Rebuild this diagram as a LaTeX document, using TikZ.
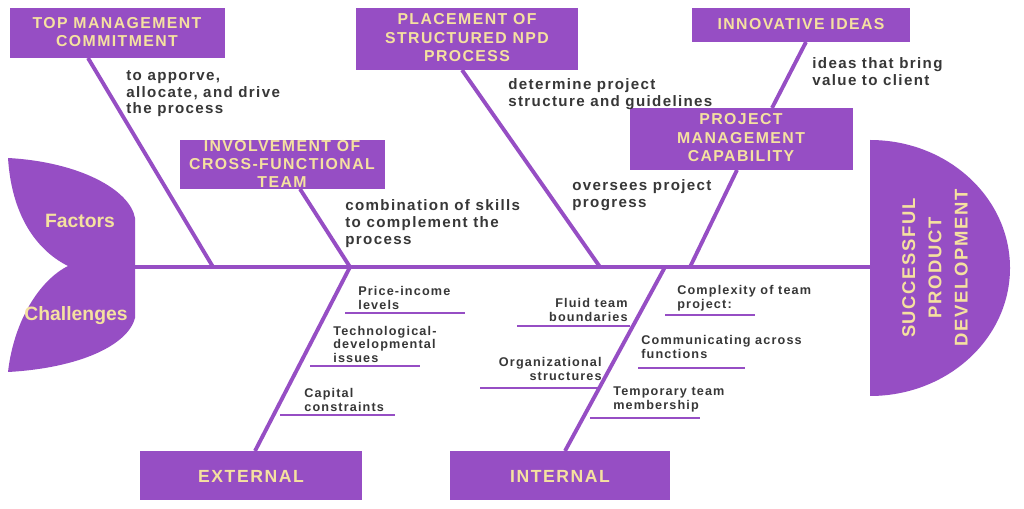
\documentclass[tikz,border=0pt]{standalone}
\usepackage{fontspec}
\setmainfont{Liberation Sans}
\newfontfamily\spaced[LetterSpace=9]{Liberation Sans}
\usetikzlibrary{calc}
\usetikzlibrary{shapes}
\definecolor{fishpurple}{RGB}{150,78,196}
\definecolor{cream}{RGB}{245,225,160}
\definecolor{inkgray}{RGB}{55,55,55}
\newcommand{\bone}[2]{\draw[fishpurple,line width=2.2pt] (#1) -- (#2);}
\newcommand{\twig}[3]{\draw[fishpurple,line width=0.9pt] (#1,#3) -- (#2,#3);}
\tikzset{
  causebox/.style={draw=none,text=cream,align=center,
    font=\spaced\bfseries\fontsize{9}{10.5}\selectfont,inner sep=0pt},
  note/.style={text=inkgray,align=left,anchor=north west,inner sep=0pt,
    font=\spaced\bfseries\fontsize{8.6}{9.6}\selectfont},
  small/.style={text=inkgray,inner sep=0pt,
    font=\spaced\bfseries\fontsize{7.2}{7.8}\selectfont},
}
\begin{document}
\begin{tikzpicture}[x=0.02cm,y=-0.02cm]
            \useasboundingbox (0,0) rectangle (1024,509);
            \fill[white] (0,0) rectangle (1024,509);
            % tail
            \fill[fishpurple] (8,158) .. controls (80,162) and (130,190) .. (135,218)
              -- (135,318) .. controls (128,345) and (80,368) .. (8,372)
              .. controls (14,320) and (40,280) .. (68,266)
              .. controls (40,252) and (12,220) .. (8,158) -- cycle;
            \node[text=cream,font=\bfseries\fontsize{11}{11}\selectfont] (factors) at (80,221) {Factors};
            \node[text=cream,font=\bfseries\fontsize{11}{11}\selectfont] (challenges) at (76,316) {Challenges};
            % head
            \fill[fishpurple] (870,140) arc[start angle=-90,end angle=90,x radius=140,y radius=128] -- cycle;
            \node[rotate=90,causebox,font=\spaced\bfseries\fontsize{10.5}{15}\selectfont] (head) at (935,268) {SUCCESSFUL\\PRODUCT\\DEVELOPMENT};
            % spine
            \coordinate (tail) at (135,267);
            \coordinate (nose) at (870,267);
            \bone{tail}{nose}
            % boxes
            \fill[fishpurple] (10,8) rectangle (225,58);
            \node[causebox] (topmgmt) at (117,32) {TOP MANAGEMENT\\COMMITMENT};
            \fill[fishpurple] (356,8) rectangle (578,70);
            \node[causebox] (placement) at (467,38) {PLACEMENT OF\\STRUCTURED NPD\\PROCESS};
            \fill[fishpurple] (692,8) rectangle (910,42);
            \node[causebox] (ideas) at (801,24) {INNOVATIVE IDEAS};
            \fill[fishpurple] (180,140) rectangle (385,189);
            \node[causebox] (crossteam) at (282,164) {INVOLVEMENT OF\\CROSS-FUNCTIONAL\\TEAM};
            \fill[fishpurple] (630,108) rectangle (853,170);
            \node[causebox] (projmgmt) at (741,138) {PROJECT\\MANAGEMENT\\CAPABILITY};
            \fill[fishpurple] (140,451) rectangle (362,500);
            \node[causebox,font=\spaced\bfseries\fontsize{10}{10}\selectfont] (external) at (251,476) {EXTERNAL};
            \fill[fishpurple] (450,451) rectangle (670,500);
            \node[causebox,font=\spaced\bfseries\fontsize{10}{10}\selectfont] (internal) at (560,476) {INTERNAL};
            % bones
            \coordinate (b1) at (213,267);
            \coordinate (b2) at (350,267);
            \coordinate (b3) at (600,267);
            \coordinate (b4) at (690,267);
            \coordinate (b5) at (665,267);
            \coordinate (t1) at (88,58);
            \coordinate (t2) at (300,189);
            \coordinate (t3) at (462,70);
            \coordinate (t4) at (806,42);
            \coordinate (t5) at (772,108);
            \coordinate (t6) at (737,170);
            \coordinate (e1) at (255,451);
            \coordinate (i1) at (565,451);
            \bone{t1}{b1}
            \bone{t2}{b2}
            \bone{t3}{b3}
            \bone{t4}{t5}
            \bone{t6}{b4}
            \bone{b2}{e1}
            \bone{b5}{i1}
            % notes
            \node[note] (n1) at (126,70) {to apporve,\\allocate, and drive\\the process};
            \node[note] (n2) at (508,78) {determine project\\structure and guidelines};
            \node[note] (n3) at (812,57) {ideas that bring\\value to client};
            \node[note] (n4) at (345,199) {combination of skills\\to complement the\\process};
            \node[note] (n5) at (572,179) {oversees project\\progress};
            % external twigs
            \twig{345}{465}{313}
            \twig{310}{420}{366}
            \twig{280}{395}{415}
            \node[small,anchor=south west,align=left] (ext1) at (358,310) {Price-income\\levels};
            \node[small,anchor=south west,align=left] (ext2) at (333,363) {Technological-\\developmental\\issues};
            \node[small,anchor=south west,align=left] (ext3) at (304,412) {Capital\\constraints};
            % internal twigs
            \twig{665}{755}{315}
            \twig{517}{630}{326}
            \twig{638}{745}{368}
            \twig{480}{600}{388}
            \twig{590}{700}{418}
            \node[small,anchor=south west,align=left] (int1) at (677,311) {Complexity of team\\project:};
            \node[small,anchor=south east,align=right] (int2) at (628,322) {Fluid team\\boundaries};
            \node[small,anchor=south west,align=left] (int3) at (641,359) {Communicating across\\functions};
            \node[small,anchor=south east,align=right] (int4) at (602,381) {Organizational\\structures};
            \node[small,anchor=south west,align=left] (int5) at (613,412) {Temporary team\\membership};
\end{tikzpicture}
\end{document}
